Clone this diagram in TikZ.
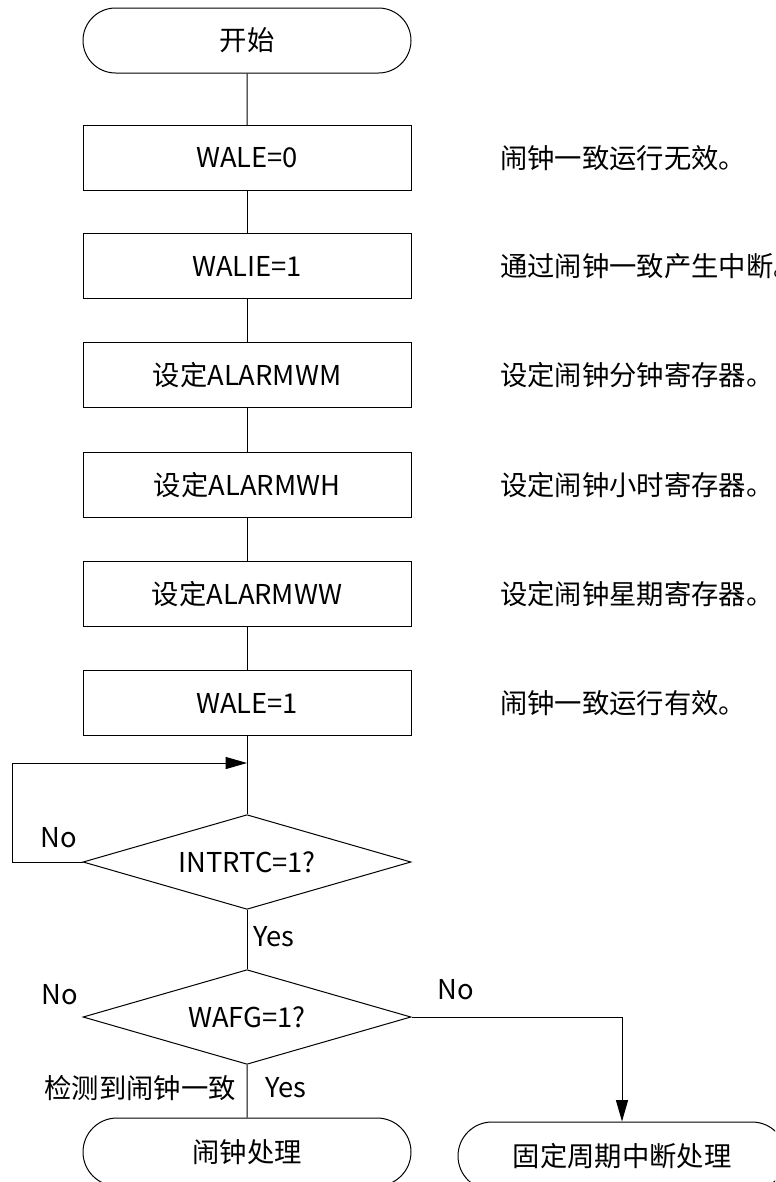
\documentclass[tikz,border=0pt]{standalone}
\usepackage{fontspec}
\setmainfont{Noto Sans CJK SC}
\usetikzlibrary{positioning, arrows.meta, shapes.geometric, shapes.misc}

\tikzset{
  procbox/.style={draw, line width=0.75pt, minimum width=246pt, minimum height=48.75pt, inner sep=0pt},
  termbox/.style={draw, rounded rectangle, line width=0.75pt, minimum width=246pt, minimum height=48.75pt, inner sep=0pt},
  decbox/.style={draw, diamond, aspect=3.45, line width=0.75pt, minimum width=246pt, minimum height=71pt, inner sep=0pt},
  note/.style={anchor=west, inner sep=0pt},
  lbl/.style={inner sep=0pt},
  flow/.style={line width=0.75pt},
  arr/.style={flow, -{Triangle[length=16pt,width=9pt]}},
}

\begin{document}
\begin{tikzpicture}[x=0.75pt, y=-0.75pt, font=\fontsize{20.5}{24}\selectfont]
\useasboundingbox (0,0) rectangle (775,1182);
\clip (0,0) rectangle (775,1182);

% main flow
\node[termbox] (start) at (247,40.5) {开始};
\node[procbox] (wale0) at (247,158) {WALE=0};
\node[procbox] (walie1) at (247,266) {WALIE=1};
\node[procbox] (setwm) at (247,375) {设定ALARMWM};
\node[procbox] (setwh) at (247,485) {设定ALARMWH};
\node[procbox] (setww) at (247,594) {设定ALARMWW};
\node[procbox] (wale1) at (247,703) {WALE=1};
\node[decbox] (intrtc) at (247,862) {INTRTC=1?};
\node[decbox] (wafg) at (247,1017) {WAFG=1?};
\node[termbox, minimum height=51pt] (alarm) at (247,1152) {闹钟处理};
\node[termbox, minimum height=51pt] (fixed) at (622,1156) {固定周期中断处理};

% comments
\node[note] (c1) at (500,158) {闹钟一致运行无效。};
\node[note] (c2) at (500,266) {通过闹钟一致产生中断。};
\node[note] (c3) at (500,375) {设定闹钟分钟寄存器。};
\node[note] (c4) at (500,485) {设定闹钟小时寄存器。};
\node[note] (c5) at (500,594) {设定闹钟星期寄存器。};
\node[note] (c6) at (500,703) {闹钟一致运行有效。};

% connectors
\draw[flow] (start) -- (wale0);
\draw[flow] (wale0) -- (walie1);
\draw[flow] (walie1) -- (setwm);
\draw[flow] (setwm) -- (setwh);
\draw[flow] (setwh) -- (setww);
\draw[flow] (setww) -- (wale1);
\draw[flow] (wale1) -- (intrtc);
\draw[flow] (intrtc) -- (wafg);
\draw[flow] (wafg) -- (alarm);

\coordinate (merge) at (247,763);
\coordinate (loopl) at (12,763);
\draw[arr] (intrtc.west) -| (loopl) -- (merge);
\draw[arr] (wafg.east) -| (fixed.north);

% labels
\node[lbl] (no1) at (59,838) {No};
\node[lbl, anchor=west] (yes1) at (253,937) {Yes};
\node[lbl] (no2) at (60,995) {No};
\node[lbl] (no3) at (456,990) {No};
\node[lbl, anchor=east] (detect) at (236,1088) {检测到闹钟一致};
\node[lbl, anchor=west] (yes2) at (265,1088) {Yes};
\end{tikzpicture}
\end{document}
